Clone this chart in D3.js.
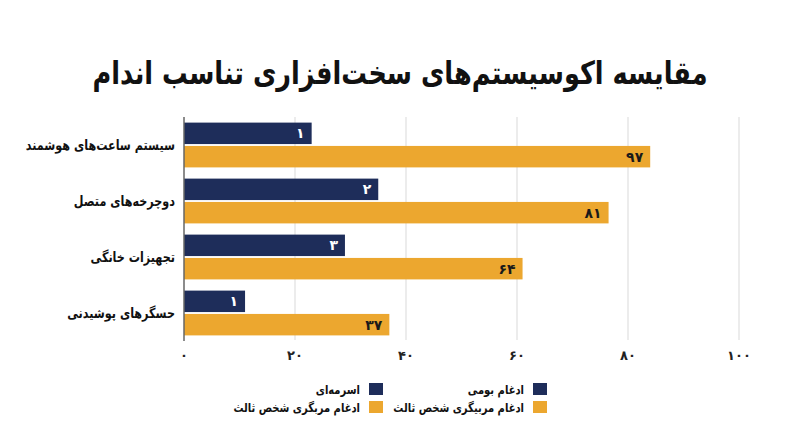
<!DOCTYPE html>
<html lang="fa">
<head>
<meta charset="utf-8">
<script src="https://cdn.jsdelivr.net/npm/d3@7"></script>
<style>
  html, body { margin: 0; padding: 0; background: #fff; }
  svg { display: block; font-family: "DejaVu Sans", "Noto Sans", sans-serif; }
</style>
</head>
<body>
<svg id="chart" width="800" height="447"></svg>
<script>
var categories = ["سیستم ساعت‌های هوشمند", "دوچرخه‌های متصل", "تجهیزات خانگی", "حسگرهای پوشیدنی"];
var nativeValues = [23, 35, 29, 11];
var thirdValues = [84, 76.5, 61, 37];
var nativeLabels = ["۱", "۲", "۳", "۱"];
var thirdLabels = ["۹۷", "۸۱", "۶۴", "۳۷"];
var xTicks = [0, 20, 40, 60, 80, 100];
var legendItems = [
  { name: "ادغام بومی", series: 0 },
  { name: "ادغام مربیگری شخص ثالث", series: 1 },
  { name: "اسرمه‌ای", series: 0 },
  { name: "ادغام مربگری شخص ثالث", series: 1 }
];

var colors = ["#1e2d5a", "#eca72f"];
var squeeze = 0.8; // DejaVu arabic is wide, narrow it a bit
var faDigits = function(n) {
  return String(n).replace(/\d/g, function(d) { return "۰۱۲۳۴۵۶۷۸۹"[d]; });
};

var svg = d3.select("#chart");

svg.append("g")
  .attr("transform", "translate(400,84) scale(" + squeeze + ",1)")
  .append("text")
  .attr("text-anchor", "middle")
  .attr("direction", "rtl")
  .attr("font-size", 32).attr("font-weight", "bold")
  .attr("fill", "#111")
  .text("مقایسه اکوسیستم‌های سخت‌افزاری تناسب اندام");

var x = d3.scaleLinear().domain([0, 100]).range([184, 739]);
var y = d3.scaleBand().domain(categories).range([117, 341]).paddingInner(0.2).paddingOuter(0.1);
var sub = d3.scaleBand().domain([0, 1]).range([0, y.bandwidth()]).paddingInner(0.08);

// grid
svg.append("g").selectAll("line")
  .data(xTicks.slice(1))
  .enter().append("line")
  .attr("x1", function(d) { return x(d); })
  .attr("x2", function(d) { return x(d); })
  .attr("y1", 117).attr("y2", 340)
  .attr("stroke", "#e6e6e6").attr("stroke-width", 1.5);

// tick labels
svg.append("g").selectAll("text")
  .data(xTicks)
  .enter().append("text")
  .attr("x", function(d) { return x(d); })
  .attr("y", 360)
  .attr("text-anchor", "middle")
  .attr("font-size", 13).attr("font-weight", "bold")
  .attr("fill", "#222")
  .text(function(d) { return faDigits(d); });

var rows = categories.map(function(c, i) {
  return { cat: c, vals: [nativeValues[i], thirdValues[i]], labels: [nativeLabels[i], thirdLabels[i]] };
});

var groups = svg.append("g").selectAll("g")
  .data(rows)
  .enter().append("g")
  .attr("transform", function(d) { return "translate(0," + y(d.cat) + ")"; });

var bars = groups.selectAll("g.bar")
  .data(function(d) { return d.vals.map(function(v, s) { return { v: v, s: s, label: d.labels[s] }; }); })
  .enter().append("g").attr("class", "bar");

bars.append("rect")
  .attr("x", x(0))
  .attr("y", function(d) { return sub(d.s); })
  .attr("width", function(d) { return x(d.v) - x(0); })
  .attr("height", sub.bandwidth())
  .attr("fill", function(d) { return colors[d.s]; });

bars.append("text")
  .attr("x", function(d) { return x(d.v) - 7; })
  .attr("y", function(d) { return sub(d.s) + sub.bandwidth() / 2; })
  .attr("dy", "0.36em")
  .attr("text-anchor", "end")
  .attr("font-size", 14).attr("font-weight", "bold")
  .attr("fill", function(d) { return d.s === 0 ? "#fff" : "#1a1a1a"; })
  .text(function(d) { return d.label; });

groups.append("g")
  .attr("transform", "translate(175," + (y.bandwidth() / 2) + ") scale(" + squeeze + ",1)")
  .append("text")
  .attr("dy", "0.36em")
  .attr("text-anchor", "start")
  .attr("direction", "rtl")
  .attr("font-size", 14).attr("font-weight", "bold")
  .attr("fill", "#111")
  .text(function(d) { return d.cat; });

// axis line at zero
svg.append("line")
  .attr("x1", x(0)).attr("x2", x(0))
  .attr("y1", 117).attr("y2", 341)
  .attr("stroke", "#666").attr("stroke-width", 1.5);

// legend
var legend = svg.append("g").selectAll("g")
  .data(legendItems)
  .enter().append("g")
  .attr("transform", function(d, i) {
    var col = Math.floor(i / 2), row = i % 2;
    return "translate(" + (col === 0 ? 547 : 383) + "," + (383 + row * 18) + ")";
  });

legend.append("rect")
  .attr("x", -14).attr("y", 0)
  .attr("width", 14).attr("height", 12)
  .attr("fill", function(d) { return colors[d.series]; });

legend.append("g")
  .attr("transform", "translate(-23,6) scale(" + squeeze + ",1)")
  .append("text")
  .attr("dy", "0.36em")
  .attr("text-anchor", "start")
  .attr("direction", "rtl")
  .attr("font-size", 12.5).attr("font-weight", "bold")
  .attr("fill", "#111")
  .text(function(d) { return d.name; });
</script>
</body>
</html>
